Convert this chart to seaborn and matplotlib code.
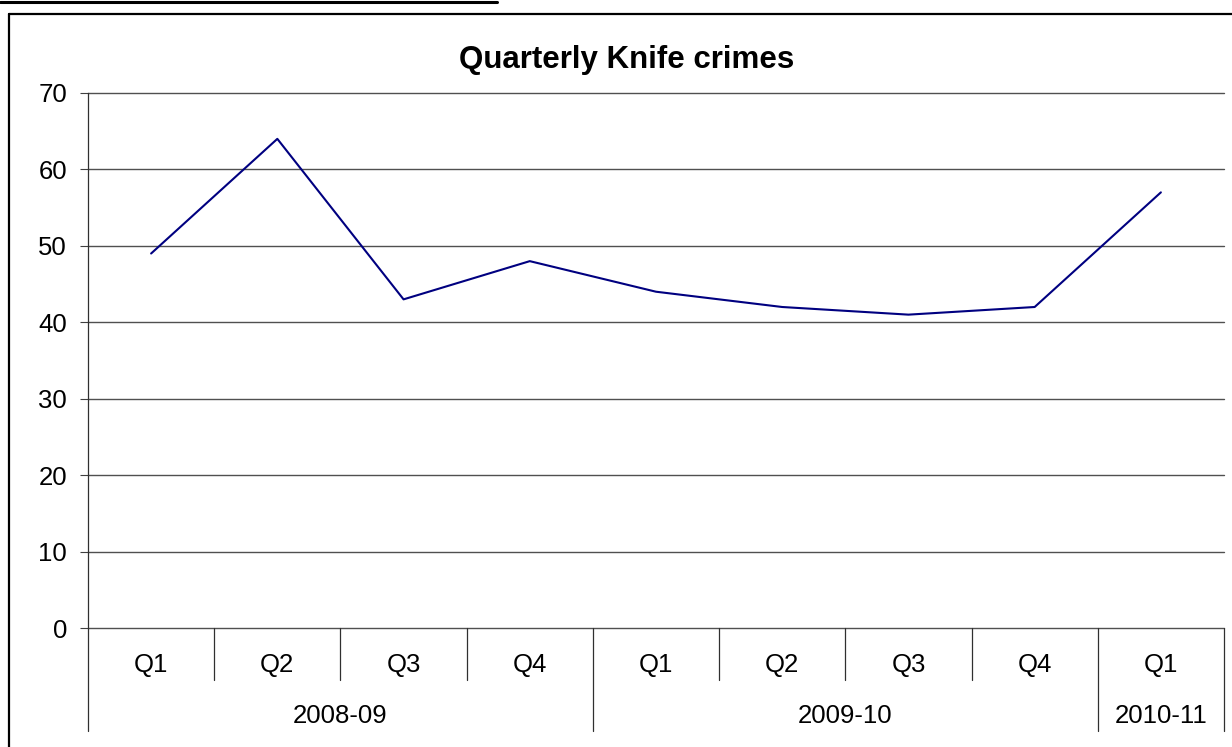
import matplotlib
matplotlib.use("Agg")
import matplotlib.pyplot as plt
from matplotlib.lines import Line2D
import seaborn as sns
import pandas as pd
import numpy as np

quarters = ["Q1", "Q2", "Q3", "Q4", "Q1", "Q2", "Q3", "Q4", "Q1"]
years = ["2008-09", "2009-10", "2010-11"]
year_spans = [(0, 4), (4, 8), (8, 9)]
knife_crimes = [49, 64, 43, 48, 44, 42, 41, 42, 57]
y_ticks = [0, 10, 20, 30, 40, 50, 60, 70]

sns.set_theme(style="white")
plt.rcParams["font.family"] = ["Liberation Sans", "DejaVu Sans"]
plt.rcParams["text.color"] = "black"

W, H = 1232, 747
fig = plt.figure(figsize=(W / 100, H / 100), dpi=100)
left, right, top, bottom = 88, 1224, 93, 628
ax = fig.add_axes([left / W, 1 - bottom / H, (right - left) / W, (bottom - top) / H])

df = pd.DataFrame({"idx": np.arange(len(knife_crimes)), "value": knife_crimes})
sns.lineplot(data=df, x="idx", y="value", ax=ax, color="#000080", linewidth=1.5)

ax.set_xlim(-0.5, len(quarters) - 0.5)
ax.set_ylim(0, 70)
ax.set_yticks(y_ticks)
ax.set_yticklabels([str(v) for v in y_ticks], fontsize=18.5, color="black")
ax.tick_params(axis="y", length=6, width=0.8, color="#404040", pad=9, left=True)
ax.set_xticks([])
ax.set_xlabel("")
ax.set_ylabel("")
for v in y_ticks:
    ax.axhline(v, color="#505050", linewidth=1.0, zorder=0, clip_on=False)

for s in ["top", "right", "bottom"]:
    ax.spines[s].set_visible(False)
ax.spines["left"].set_color("#303030")
ax.spines["left"].set_linewidth(0.9)

ax.text(0.474, 1 + 33 / (bottom - top), "Quarterly Knife crimes", transform=ax.transAxes,
        ha="center", va="center", fontsize=22.5, fontweight="bold", color="black")

# category axis (two levels)
trans = ax.get_xaxis_transform()
h_px = bottom - top
lvl1 = -52 / h_px
lvl2 = -103 / h_px
group_bounds = set()
for a, b in year_spans:
    group_bounds.add(a)
    group_bounds.add(b)
for i in range(len(quarters) + 1):
    x = i - 0.5
    y_end = lvl2 if i in group_bounds else lvl1
    ax.plot([x, x], [0, y_end], transform=trans, color="#303030", linewidth=0.9, clip_on=False)
for i, q in enumerate(quarters):
    ax.text(i, -37 / h_px, q, transform=trans, ha="center", va="center", fontsize=18.5, color="black")
for (a, b), yr in zip(year_spans, years):
    ax.text((a + b - 1) / 2, -88 / h_px, yr, transform=trans, ha="center", va="center", fontsize=18.5, color="black")

# outer chart frame and top rule
fig.add_artist(Line2D([9 / W, 1.01], [1 - 13.5 / H, 1 - 13.5 / H], color="black", linewidth=1.6, transform=fig.transFigure))
fig.add_artist(Line2D([9 / W, 9 / W], [1 - 13.5 / H, -0.01], color="black", linewidth=1.6, transform=fig.transFigure))
fig.add_artist(Line2D([0, 497 / W], [1 - 2 / H, 1 - 2 / H], color="black", linewidth=2.2, transform=fig.transFigure))

fig.savefig("out.png", dpi=100, facecolor="white")
